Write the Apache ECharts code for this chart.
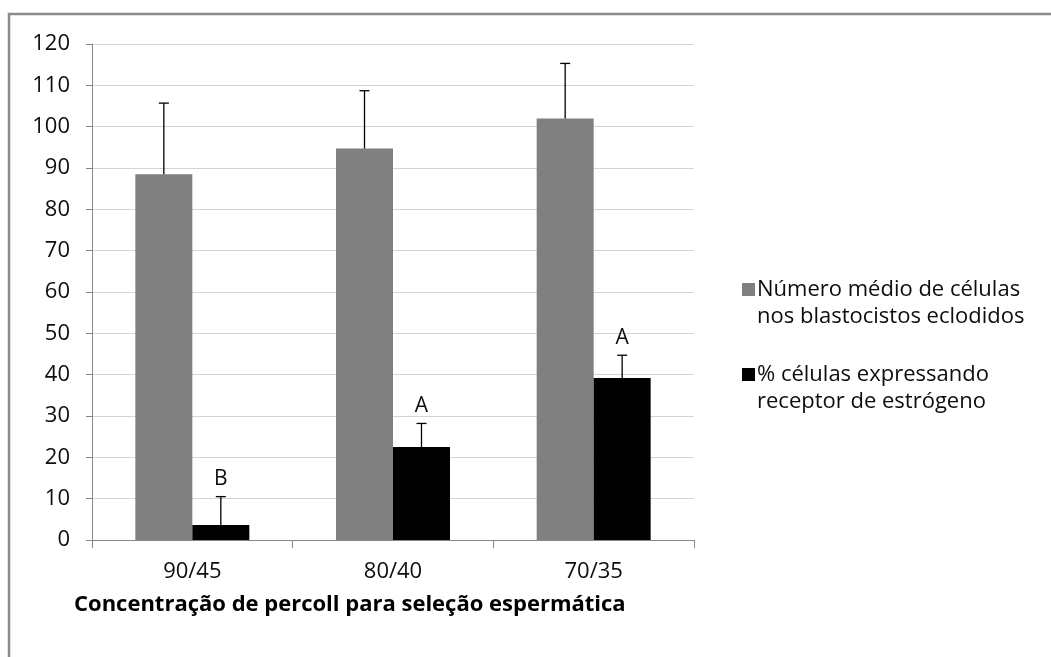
<!DOCTYPE html>
<html>
<head>
<meta charset="utf-8">
<script src="https://cdn.jsdelivr.net/npm/echarts@6/dist/echarts.min.js"></script>
<style>
html,body{margin:0;padding:0;background:#fff;}
#c{width:1051px;height:657px;}
</style>
</head>
<body>
<div id="c"></div>
<script>
const categories = ['90/45', '80/40', '70/35'];
const seriesNames = ['Número médio de células nos blastocistos eclodidos', '% células expressando receptor de estrógeno'];
const legendLines = ['Número médio de células\nnos blastocistos eclodidos', '% células expressando\nreceptor de estrógeno'];
const grayMeans = [88.5, 94.7, 102.0];
const grayErr = [17.2, 14.0, 13.3];
const blackMeans = [3.6, 22.5, 39.2];
const blackErr = [6.9, 5.7, 5.5];
const letters = ['B', 'A', 'A'];
const yTicks = {min: 0, max: 120, interval: 10};
const xTitle = 'Concentração de percoll para seleção espermática';

const FONT = '"Open Sans", "Noto Sans", sans-serif';
const BAR_FRAC = 0.284;

function errSeries(means, errs, side, withLetters) {
  const data = means.map((m, i) => [i, m, m + errs[i]]);
  return {
    type: 'custom',
    z: 5,
    silent: true,
    data: data,
    encode: {x: 0, y: [1, 2]},
    renderItem: function (params, api) {
      const i = api.value(0);
      const base = api.coord([i, api.value(1)]);
      const top = api.coord([i, api.value(2)]);
      const band = api.size([1, 0])[0];
      const x = base[0] + side * band * BAR_FRAC / 2;
      const cap = 5;
      const children = [
        {type: 'line', shape: {x1: x, y1: base[1], x2: x, y2: top[1]}, style: {stroke: '#000', lineWidth: 1.3}},
        {type: 'line', shape: {x1: x - cap, y1: top[1], x2: x + cap, y2: top[1]}, style: {stroke: '#000', lineWidth: 1.3}}
      ];
      if (withLetters) {
        children.push({
          type: 'text',
          style: {
            x: x, y: top[1] - 7, text: letters[params.dataIndex],
            align: 'center', verticalAlign: 'bottom',
            fill: '#0d0d0d', font: '21px ' + FONT
          }
        });
      }
      return {type: 'group', children: children};
    }
  };
}

const chart = echarts.init(document.getElementById('c'));
chart.setOption({
  animation: false,
  backgroundColor: '#fff',
  graphic: [{
    type: 'rect',
    shape: {x: 9, y: 14, width: 1200, height: 800},
    style: {fill: 'none', stroke: '#8a8a8a', lineWidth: 2.5},
    silent: true, z: 100
  }],
  grid: {left: 92, right: 357, top: 44, bottom: 117, containLabel: false},
  legend: {
    orient: 'vertical',
    left: 737,
    top: 271,
    icon: 'path://M0,0L13,0L13,13L0,13Z M0,40L0.01,40L0.01,40.01Z',
    itemWidth: 13,
    itemHeight: 40,
    itemGap: 31,
    selectedMode: false,
    textStyle: {fontFamily: FONT, fontSize: 22, color: '#0d0d0d', lineHeight: 27, padding: [0, 0, 0, -3]},
    formatter: function (name) {
      return legendLines[seriesNames.indexOf(name)];
    },
    data: seriesNames
  },
  xAxis: {
    type: 'category',
    data: categories,
    name: xTitle,
    nameLocation: 'start',
    nameGap: 0,
    nameTextStyle: {
      fontFamily: FONT, fontSize: 22, fontWeight: 'bold', color: '#000',
      align: 'left', verticalAlign: 'top', padding: [54, 0, 0, -18]
    },
    axisLine: {lineStyle: {color: '#868686', width: 1}},
    axisTick: {show: true, alignWithLabel: false, length: 8, lineStyle: {color: '#868686'}},
    axisLabel: {fontFamily: FONT, fontSize: 22, color: '#0d0d0d', margin: 21},
    splitLine: {show: false}
  },
  yAxis: {
    type: 'value',
    min: yTicks.min, max: yTicks.max, interval: yTicks.interval,
    axisLine: {show: true, lineStyle: {color: '#868686', width: 1}},
    axisTick: {show: true, length: 6, lineStyle: {color: '#868686'}},
    axisLabel: {fontFamily: FONT, fontSize: 22, color: '#0d0d0d', margin: 22},
    splitLine: {lineStyle: {color: '#d4d4d4', width: 1}}
  },
  series: [
    {
      name: seriesNames[0], type: 'bar', data: grayMeans,
      barWidth: (BAR_FRAC * 100) + '%', barGap: '0%',
      itemStyle: {color: '#808080'}
    },
    {
      name: seriesNames[1], type: 'bar', data: blackMeans,
      barWidth: (BAR_FRAC * 100) + '%', barGap: '0%',
      itemStyle: {color: '#000000'}
    },
    errSeries(grayMeans, grayErr, -1, false),
    errSeries(blackMeans, blackErr, 1, true)
  ]
});
</script>
</body>
</html>
